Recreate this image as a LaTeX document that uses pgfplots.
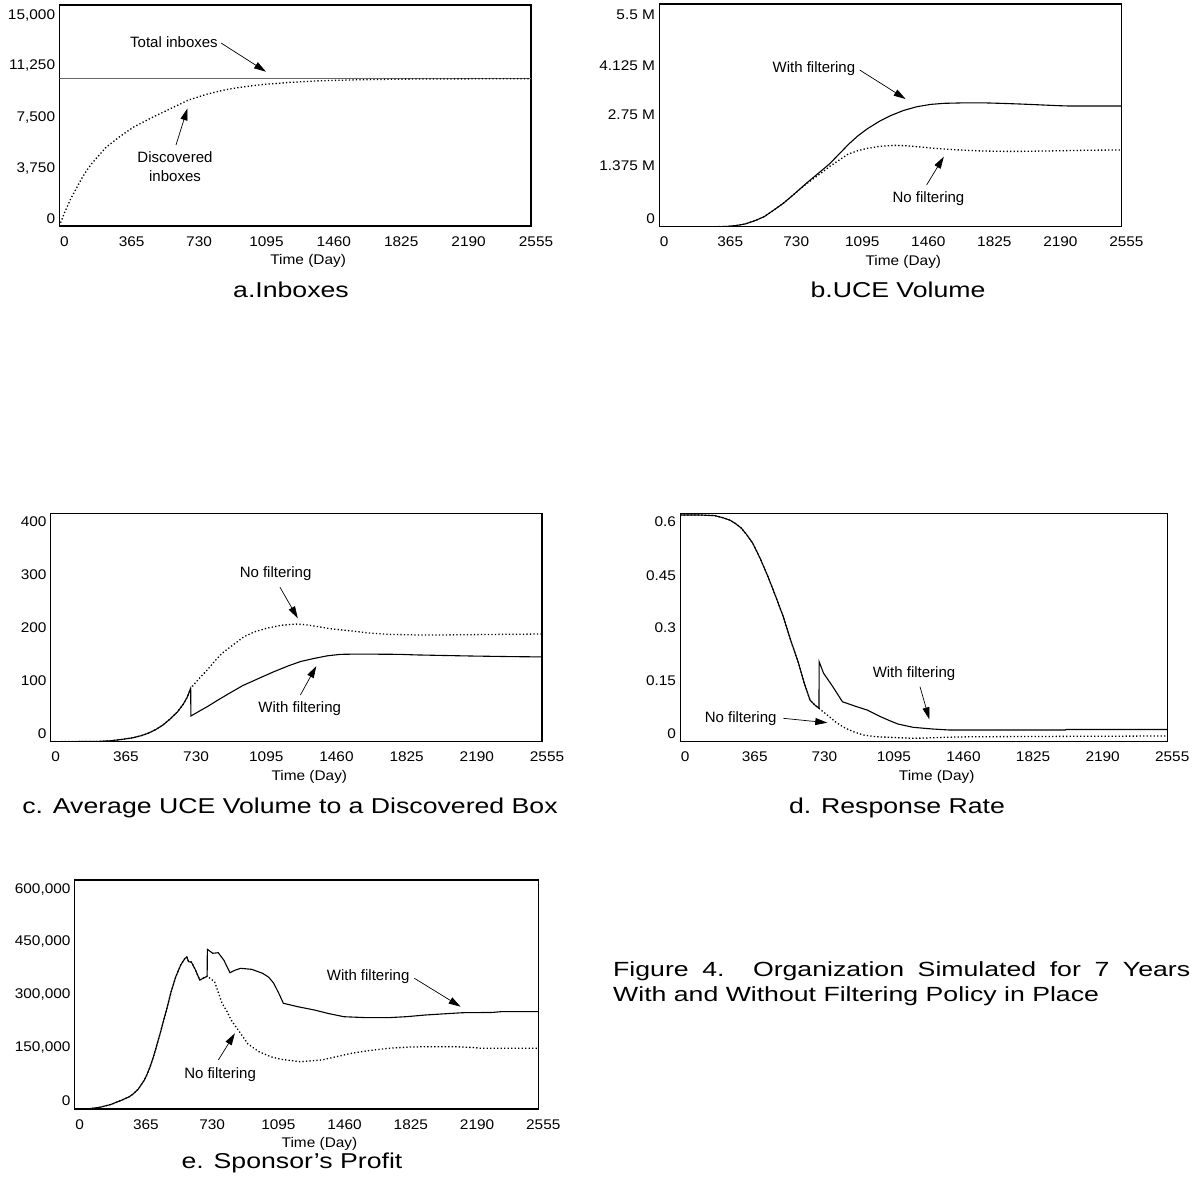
\documentclass[border=0pt]{standalone}
\usepackage{pgfplots}
\pgfplotsset{compat=1.18}
\usepackage{fontspec}
\setmainfont{Liberation Sans}
\newfontfamily\tickfont[FakeStretch=1.1]{Liberation Sans}
\newfontfamily\capfont[FakeStretch=1.24]{Liberation Sans}
\newfontfamily\figfont[FakeStretch=1.3]{Liberation Sans}
\usetikzlibrary{arrows.meta}

\newcommand{\tickf}{\tickfont\fontsize{14}{16}\selectfont}
\newcommand{\annf}{\fontsize{15}{19}\selectfont}

\pgfplotsset{
  vs/.style={
    scale only axis, anchor=north west,
    xmin=0, xmax=2555,
    axis line style={line width=1.4pt},
    xtick={0,365,730,1095,1460,1825,2190,2555},
    xticklabels={0,365,730,1095,1460,1825,2190,2555},
    scaled ticks=false,
    major tick length=0pt,
    tick style={draw=none},
    tick label style={font=\tickf, inner sep=0pt},
    xticklabel style={anchor=base, xshift=5pt, yshift=-20pt},
    yticklabel style={anchor=base east, xshift=-4pt, yshift=-5pt},
    xlabel={Time (Day)},
    every axis x label/.style={at={(axis description cs:0.5,0)}, anchor=base,
      xshift=13pt, yshift=-38.5pt, font=\tickf},
  },
  withf/.style={black, line width=1.1pt, no markers},
  nof/.style={black, line width=1.3pt, dash pattern=on 1.3pt off 2.2pt, no markers},
}

\begin{document}
\begin{tikzpicture}[arr/.style={-{Triangle[length=12pt,width=7pt]}, line width=0.7pt}]
\path[use as bounding box] (0pt,0pt) rectangle (1199pt,-1186pt);

% a. Inboxes
\begin{axis}[vs, at={(59.3pt,-5pt)}, width=471.7pt, height=221pt,
  ymin=0, ymax=15000,
  ytick={523,3957,7419,10928,14369},
  yticklabels={0,{3,750},{7,500},{11,250},{15,000}}]
\addplot[black!60, line width=1pt] coordinates {(0,10000)(2555,10000)};
\addplot[nof] coordinates {
  (0,0)(30,950)(60,1800)(90,2500)(120,3200)(150,3800)(180,4300)(250,5300)
  (320,6000)(400,6700)(500,7350)(600,7950)(700,8550)(800,8950)(900,9250)
  (1000,9450)(1100,9600)(1250,9750)(1400,9850)(1600,9920)(1800,9960)
  (2000,9980)(2300,9990)(2555,10000)};
\end{axis}

% b. UCE Volume
\begin{axis}[vs, at={(659.2pt,-4pt)}, width=462.2pt, height=222.7pt,
  ymin=0, ymax=5500000,
  ytick={207000,1506000,2759000,3993000,5253000},
  yticklabels={0,1.375 M,2.75 M,4.125 M,5.5 M}]
\addplot[withf] coordinates {
  (0,0)(300,0)(369,5000)(420,25000)(475,67000)(530,150000)(580,247000)
  (630,400000)(686,578000)(750,820000)(813,1072000)(880,1320000)(940,1545000)
  (1000,1820000)(1050,2050000)(1100,2250000)(1151,2420000)(1220,2610000)
  (1278,2741000)(1350,2870000)(1425,2964000)(1500,3020000)(1573,3047000)
  (1700,3060000)(1784,3060000)(1900,3045000)(1995,3030000)(2100,3010000)
  (2200,2990000)(2270,2980000)(2555,2980000)};
\addplot[nof] coordinates {
  (0,0)(300,0)(369,5000)(420,25000)(475,67000)(530,150000)(580,247000)
  (630,400000)(686,578000)(750,820000)(800,1010000)(855,1195000)(900,1340000)
  (940,1480000)(1000,1660000)(1045,1795000)(1100,1880000)(1151,1936000)
  (1220,1985000)(1298,2010000)(1360,2000000)(1425,1976000)(1500,1945000)
  (1573,1919000)(1680,1890000)(1784,1870000)(1900,1860000)(2000,1860000)
  (2200,1875000)(2400,1890000)(2555,1894000)};
\end{axis}

% c. Average UCE volume to a discovered box
\begin{axis}[vs, at={(50.7pt,-513.3pt)}, width=491.3pt, height=228.4pt,
  ymin=0, ymax=400,
  ytick={14.7,108,199.6,292,385.3},
  yticklabels={0,100,200,300,400}]
\addplot[withf] coordinates {
  (0,0)(250,0.5)(314,1.75)(370,4)(429,7)(470,10.5)(506,14.7)(545,21)(583,29)
  (620,39.5)(660,52.5)(690,66)(710,78)(728,93.5)(729,45)(770,53)(814,61.3)
  (870,73)(929,84.8)(1000,98.5)(1083,111)(1160,122.5)(1237,133)(1300,140.5)
  (1372,146)(1440,150.5)(1507,153)(1600,153.5)(1815,153)(1900,152)(2046,151)
  (2200,150)(2400,149)(2555,148.5)};
\addplot[nof] coordinates {
  (0,0)(250,0.5)(314,1.75)(370,4)(429,7)(470,10.5)(506,14.7)(545,21)(583,29)
  (620,39.5)(660,52.5)(690,66)(710,78)(728,93.5)(770,110)(814,125.6)(850,140)
  (891,154.8)(950,170)(1006,184)(1060,192.5)(1122,198.6)(1200,204)(1275,206)
  (1320,205)(1372,202.6)(1450,198)(1564,194)(1650,190.5)(1757,188)(1900,187)
  (2050,187)(2200,187.5)(2400,188.2)(2555,188.6)};
\end{axis}

% d. Response rate
\begin{axis}[vs, at={(680.2pt,-513.3pt)}, width=487pt, height=228.4pt,
  ymin=0, ymax=0.6,
  ytick={0.0221,0.1621,0.2995,0.4379,0.5779},
  yticklabels={0,0.15,0.3,0.45,0.6}]
\addplot[withf] coordinates {
  (0,0.5955)(100,0.5955)(180,0.594)(220,0.589)(261,0.582)(290,0.573)
  (321,0.561)(350,0.543)(381,0.521)(420,0.481)(461,0.433)(500,0.383)
  (541,0.328)(580,0.266)(621,0.206)(650,0.155)(681,0.1095)(705,0.097)
  (728,0.0877)(729,0.21)(752,0.18)(800,0.145)(851,0.105)(920,0.093)
  (982,0.083)(1050,0.066)(1100,0.055)(1142,0.0465)(1222,0.0378)(1323,0.0334)
  (1413,0.0307)(2020,0.0307)(2024,0.032)(2555,0.032)};
\addplot[nof] coordinates {
  (0,0.5955)(100,0.5955)(180,0.594)(220,0.589)(261,0.582)(290,0.573)
  (321,0.561)(350,0.543)(381,0.521)(420,0.481)(461,0.433)(500,0.383)
  (541,0.328)(580,0.266)(621,0.206)(650,0.155)(681,0.1095)(705,0.097)
  (728,0.0877)(782,0.0657)(820,0.05)(862,0.0368)(910,0.026)(962,0.0176)
  (1030,0.013)(1102,0.0115)(1222,0.0089)(1300,0.01)(1380,0.0115)(1520,0.013)
  (2000,0.014)(2555,0.015)};
\end{axis}

% e. Sponsor's profit
\begin{axis}[vs, at={(74.7pt,-880pt)}, width=463.6pt, height=229pt,
  ymin=0, ymax=600000,
  ytick={23580,163200,303100,442800,578270},
  yticklabels={0,{150,000},{300,000},{450,000},{600,000}}]
\addplot[withf] coordinates {
  (0,0)(80,800)(139,4450)(200,12000)(261,23580)(300,32000)(322,39300)
  (350,52000)(384,76000)(400,92000)(415,110000)(430,131000)(445,154600)
  (460,180000)(475,205000)(490,232000)(506,259400)(530,305000)(557,346600)
  (585,378000)(608,394800)(618,398000)(628,386000)(643,385000)(665,365000)
  (689,338000)(710,343000)(730,348000)(731,418400)(761,408000)(791,409500)
  (822,390000)(856,357000)(880,363000)(914,368600)(975,366000)(1036,355500)
  (1070,345000)(1097,329300)(1125,303000)(1150,277000)(1230,268000)
  (1321,259400)(1400,250000)(1484,241800)(1600,239500)(1729,239300)
  (1830,242000)(1933,246300)(2040,249500)(2137,252300)(2300,253000)
  (2350,255000)(2555,255000)};
\addplot[nof] coordinates {
  (0,0)(80,800)(139,4450)(200,12000)(261,23580)(300,32000)(322,39300)
  (350,52000)(384,76000)(400,92000)(415,110000)(430,131000)(445,154600)
  (460,180000)(475,205000)(490,232000)(506,259400)(530,305000)(557,346600)
  (585,378000)(608,394800)(618,398000)(628,386000)(643,385000)(665,365000)
  (689,338000)(710,343000)(730,348000)(771,333600)(812,277000)(840,255000)
  (862,233200)(914,198300)(955,170300)(1016,150100)(1080,137000)(1138,130200)
  (1240,124000)(1362,128400)(1450,138000)(1526,146000)(1620,153000)
  (1729,159000)(1830,162000)(1933,163200)(2100,163200)(2200,161000)
  (2240,159000)(2555,159000)};
\end{axis}

% annotations
\begin{scope}[every node/.style={font=\annf, inner sep=0pt, align=center}]
\node at (174pt,-41.7pt) {Total inboxes};
\draw[arr] (221pt,-43pt) -- (266pt,-71.7pt);
\node at (175pt,-166.5pt) {Discovered\\inboxes};
\draw[arr] (176pt,-145pt) -- (187.5pt,-108.3pt);

\node at (813.9pt,-68.3pt) {With filtering};
\draw[arr] (859.7pt,-70pt) -- (905.6pt,-99pt);
\node at (928.5pt,-199pt) {No filtering};
\draw[arr] (926.6pt,-185pt) -- (943.8pt,-156.7pt);

\node at (275.6pt,-574pt) {No filtering};
\draw[arr] (280pt,-587.3pt) -- (297.8pt,-618.3pt);
\node at (299.7pt,-709pt) {With filtering};
\draw[arr] (300.4pt,-695pt) -- (316.3pt,-666pt);

\node at (740.6pt,-718.3pt) {No filtering};
\draw[arr] (783.3pt,-718.3pt) -- (827.3pt,-722.7pt);
\node at (914pt,-674pt) {With filtering};
\draw[arr] (920pt,-686.7pt) -- (929.3pt,-719.3pt);

\node at (368.1pt,-976.7pt) {With filtering};
\draw[arr] (414.4pt,-978.3pt) -- (460.6pt,-1006.7pt);
\node at (220.1pt,-1074.3pt) {No filtering};
\draw[arr] (218.3pt,-1060pt) -- (234.9pt,-1033.3pt);
\end{scope}

% panel captions
\begin{scope}[every node/.style={font=\capfont\fontsize{21.5}{24}\selectfont, inner sep=0pt, anchor=base}]
\node at (291pt,-297pt) {a.Inboxes};
\node at (898pt,-297pt) {b.UCE Volume};
\node at (290pt,-813pt) {c. Average UCE Volume to a Discovered Box};
\node at (897pt,-813pt) {d. Response Rate};
\node at (292pt,-1168pt) {e. Sponsor’s Profit};
\end{scope}

% figure caption
\node[anchor=base west, inner sep=0pt, text width=577pt, align=justify,
  font=\figfont\fontsize{20.5}{25.5}\selectfont] at (613pt,-976pt)
  {Figure 4. Organization Simulated for 7 Years\linebreak
   With and Without Filtering Policy in Place};
\end{tikzpicture}
\end{document}
